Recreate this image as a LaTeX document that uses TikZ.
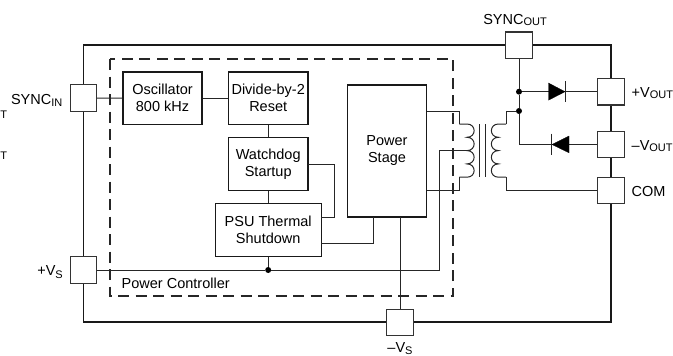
\documentclass[tikz,border=0pt]{standalone}
\usepackage{fontspec}
\setmainfont{Liberation Sans}
\newcommand{\pinsub}[1]{\raisebox{-0.12em}{\fontsize{11}{11}\selectfont #1}}
\newcommand{\pinsubs}[1]{\raisebox{-0.18em}{\fontsize{11}{11}\selectfont #1}}
\begin{document}
\begin{tikzpicture}[x=1pt,y=-1pt,
  wire/.style={line width=1pt,color=black!85,line join=miter},
  outline/.style={line width=1.3pt,color=black!90},
  block/.style={draw=black!90,line width=1.1pt,fill=white,inner sep=0pt,align=center,
     font=\fontsize{14.5}{17}\selectfont},
  pin/.style={draw=black!80,line width=1.1pt,fill=white,minimum width=26.5pt,minimum height=26.5pt,inner sep=0pt},
  dot/.style={circle,fill=black,inner sep=0pt,minimum size=6pt},
  tag/.style={inner sep=0pt,font=\fontsize{14.5}{17}\selectfont},
  frag/.style={inner sep=0pt,font=\fontsize{11}{11}\selectfont},
  diodetri/.style={fill=black,draw=black,line width=0.3pt}]
\useasboundingbox (0,0) rectangle (673,356);
% package outline
\coordinate (oTL) at (83.3,45);
\coordinate (oBR) at (611,322);
\draw[outline] (oTL) rectangle (oBR);
% power controller outline
\coordinate (dTL) at (110,59);
\coordinate (dBR) at (453,296);
\draw[line width=1.2pt,color=black!85,dash pattern=on 11pt off 6.5pt] (dTL) rectangle (dBR);
% blocks
\node[block,minimum width=79pt,minimum height=52.5pt] (osc) at (162.5,98.2) {Oscillator\\800 kHz};
\node[block,minimum width=79.5pt,minimum height=52.5pt] (div) at (268.2,98.2) {Divide-by-2\\Reset};
\node[block,minimum width=79.5pt,minimum height=53pt] (wd) at (268.2,164) {Watchdog\\Startup};
\node[block,minimum width=106pt,minimum height=52.7pt] (psu) at (268.2,230) {PSU Thermal\\Shutdown};
\node[block,minimum width=79.4pt,minimum height=132pt] (ps) at (387,151) {Power\\Stage};
% pins
\node[pin] (syncin) at (83.3,98) {};
\node[pin] (vsp) at (83.3,270) {};
\node[pin] (vsm) at (400,322.5) {};
\node[pin] (syncout) at (519,45.2) {};
\node[pin] (voutp) at (611,91.7) {};
\node[pin] (voutm) at (611,144.5) {};
\node[pin] (com) at (611,190.5) {};
% junctions and helper points
\node[dot] (j1) at (519,91.7) {};
\node[dot] (j2) at (519,111) {};
\node[dot] (j3) at (268.2,270) {};
\coordinate (wdo) at (308,164);
\coordinate (wdc) at (334,164);
\coordinate (psui) at (321.2,217);
\coordinate (psuo) at (321.2,243.4);
\coordinate (pi1) at (373.7,217);
\coordinate (vsb) at (400,217);
\coordinate (psT) at (426.7,111);
\coordinate (psB) at (426.7,190.6);
\coordinate (tap) at (439.7,150.6);
\coordinate (tapb) at (439.7,270);
\coordinate (pt) at (459.3,124);
\coordinate (pb) at (459.3,177.2);
\coordinate (pc) at (467,150.6);
\coordinate (st) at (506,124);
\coordinate (sb) at (506,177.2);
\coordinate (dm) at (519,144.5);
% wires
\draw[wire] (syncin.east) -- (osc.west);
\draw[wire] (osc.east) -- (div.west);
\draw[wire] (div.south) -- (wd.north);
\draw[wire] (wd.south) -- (psu.north);
\draw[wire] (wdo) -- (wdc) |- (psui);
\draw[wire] (psuo) -| (pi1);
\draw[wire] (psu.south) -- (j3);
\draw[wire] (vsp.east) -- (j3) -- (tapb) -- (tap) -- (pc);
\draw[wire] (vsb) -- (vsm.north);
\draw[wire] (psT) -| (pt);
\draw[wire] (psB) -| (pb);
\draw[wire] (st) |- (j2);
\draw[wire] (sb) |- (com.west);
\draw[wire] (syncout.south) -- (j1) -- (j2) -- (dm) -- (voutm.west);
\draw[wire] (j1) -- (voutp.west);
% transformer
\draw[wire] (pt) -- (467,124)
  .. controls (476.5,124) and (476.5,137.3) .. (467,137.3)
  .. controls (476.5,137.3) and (476.5,150.6) .. (467,150.6)
  .. controls (476.5,150.6) and (476.5,163.9) .. (467,163.9)
  .. controls (476.5,163.9) and (476.5,177.2) .. (467,177.2) -- (pb);
\draw[wire] (st) -- (498.5,124)
  .. controls (489,124) and (489,137.3) .. (498.5,137.3)
  .. controls (489,137.3) and (489,150.6) .. (498.5,150.6)
  .. controls (489,150.6) and (489,163.9) .. (498.5,163.9)
  .. controls (489,163.9) and (489,177.2) .. (498.5,177.2) -- (sb);
\draw[wire] (479.3,124) -- (479.3,177.2);
\draw[wire] (485.7,124) -- (485.7,177.2);
% diodes
\draw[diodetri] (548.5,83) -- (565,91.7) -- (548.5,100.2) -- cycle;
\draw[wire] (565,81) -- (565,102);
\draw[diodetri] (569,136) -- (552,144.5) -- (569,152.8) -- cycle;
\draw[wire] (551.7,133.5) -- (551.7,155);
% labels
\node[tag,anchor=base east] (lsyncin) at (62.5,104.3) {SYNC\pinsub{IN}};
\node[tag,anchor=base east] (lvsp) at (63,275.5) {+V\pinsubs{S}};
\node[tag,anchor=base] (lvsm) at (400,352) {–V\pinsubs{S}};
\node[tag,anchor=base] (lsyncout) at (515,24) {SYNC\pinsub{OUT}};
\node[tag,anchor=base west] (lvoutp) at (631.5,97) {+V\pinsub{OUT}};
\node[tag,anchor=base west] (lvoutm) at (631.5,150) {–V\pinsub{OUT}};
\node[tag,anchor=base west] (lcom) at (631.5,196) {COM};
\node[tag,anchor=base west] (lpc) at (121.5,288.3) {Power Controller};
\node[frag,anchor=base east] (fr1) at (7.3,118) {T};
\node[frag,anchor=base east] (fr2) at (7.3,159) {T};
\end{tikzpicture}
\end{document}
